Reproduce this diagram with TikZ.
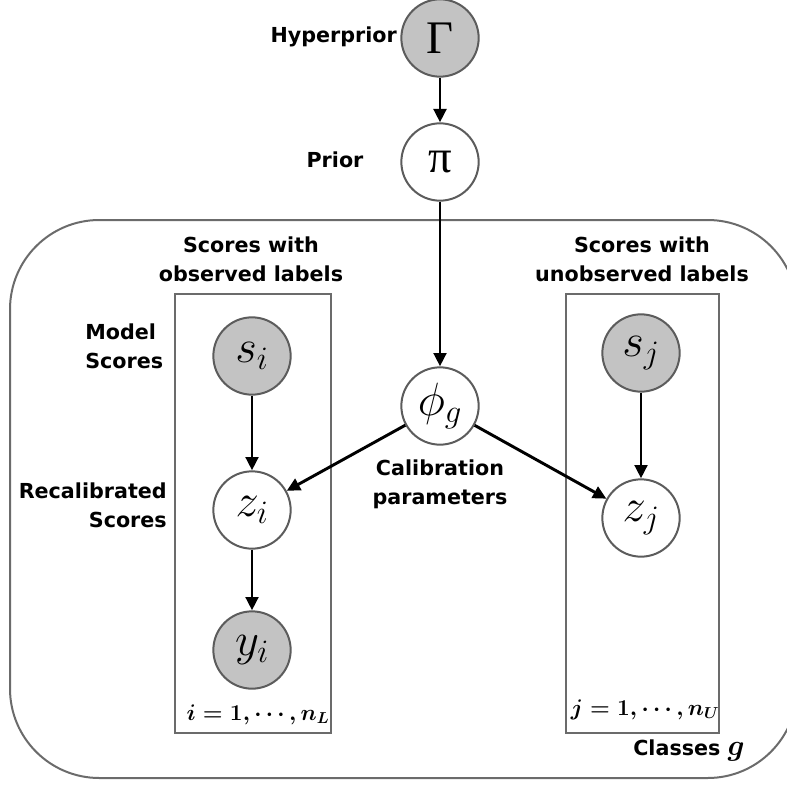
\RequirePackage{fix-cm}
\documentclass[tikz,border=0pt]{standalone}
\usepackage{fontspec}
\setmainfont{DejaVu Sans}
\newfontfamily\greekfont{Liberation Serif}
\usetikzlibrary{arrows.meta,positioning}
\definecolor{cObsF}{HTML}{C3C3C3}
\definecolor{cNodeL}{HTML}{5C5C5C}
\definecolor{cPlateL}{HTML}{6B6B6B}

\begin{document}
\begin{tikzpicture}[x=0.75pt,y=-0.75pt,
  rv/.style={circle,draw=cNodeL,line width=1.5pt,minimum size=58pt,inner sep=0pt,
    fill=white,font=\fontsize{35}{35}\selectfont},
  obs/.style={rv,fill=cObsF},
  lab/.style={font=\bfseries\fontsize{15.5}{22}\selectfont,inner sep=0pt},
  idx/.style={font=\boldmath\fontsize{17}{20}\selectfont,inner sep=0pt,anchor=base},
  plate/.style={draw=cPlateL,line width=1.5pt},
  arr/.style={-{Triangle[length=10pt,width=9.5pt]},line width=2.2pt}]

  \useasboundingbox (0,0) rectangle (787,784);

  % outer plate over classes
  \draw[plate,rounded corners=67pt] (10,220) rectangle (797,778);
  \node[lab,anchor=base] (classes) at (689,755)
    {Classes {\boldmath\fontsize{22}{22}\selectfont$g$}};

  % inner plates
  \draw[plate] (175,294) rectangle (331,733);
  \draw[plate] (566,294) rectangle (719,733);
  \node[idx] (idxL) at (258,720) {$i=1,\cdots,n_L$};
  \node[idx] (idxU) at (645,715) {$j=1,\cdots,n_U$};

  % random variables
  \node[obs] (gam) at (440,38) {\greekfont Γ};
  \node[rv]  (pri) at (440,162) {\greekfont π};
  \node[rv]  (phi) at (440,406) {$\phi_g$};
  \node[obs] (si)  at (252,356) {$s_i$};
  \node[rv]  (zi)  at (252,510) {$z_i$};
  \node[obs] (yi)  at (252,650) {$y_i$};
  \node[obs] (sj)  at (641,353) {$s_j$};
  \node[rv]  (zj)  at (641,518) {$z_j$};

  % labels
  \node[lab,anchor=base east] (hyp) at (397,43) {Hyperprior};
  \node[lab,anchor=base] (prlab) at (335,168) {Prior};
  \node[lab,align=center] (obslab) at (251,259) {Scores with\\observed labels};
  \node[lab,align=center] (unolab) at (642,259) {Scores with\\unobserved labels};
  \node[lab,align=left,anchor=west] (modlab) at (85,346) {Model\\Scores};
  \node[lab,align=right,anchor=east] (reclab) at (167,505) {Recalibrated\\Scores};
  \node[lab,align=center] (callab) at (440,484) {Calibration\\parameters};

  % dependencies
  \draw[arr] (gam) -- (pri);
  \draw[arr] (pri) -- (phi);
  \draw[arr] (si) -- (zi);
  \draw[arr] (zi) -- (yi);
  \draw[arr] (phi) -- (zi);
  \draw[arr] (phi) -- (zj);
  \draw[arr] (sj) -- (zj);
\end{tikzpicture}
\end{document}
